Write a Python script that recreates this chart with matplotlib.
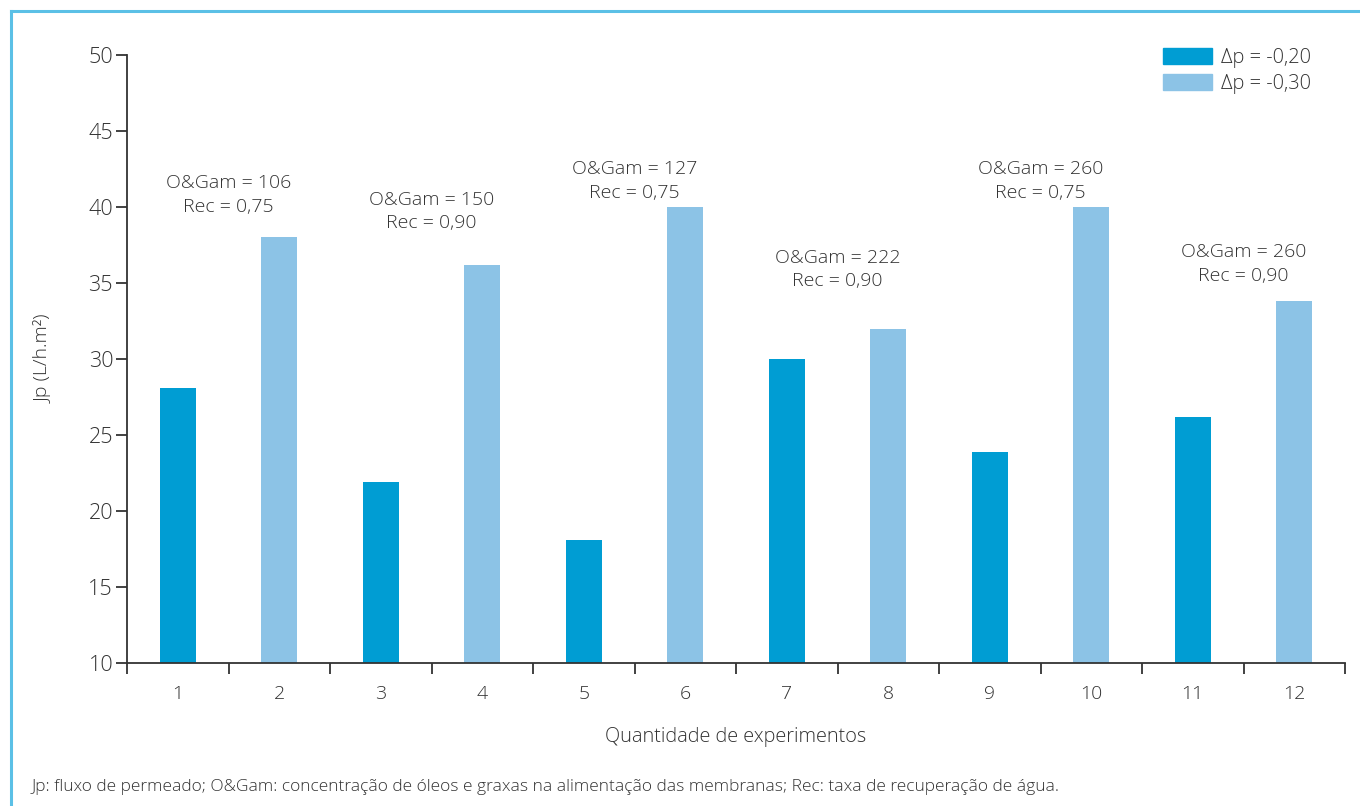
import matplotlib
matplotlib.use('Agg')
import matplotlib.pyplot as plt
from matplotlib.lines import Line2D
from matplotlib.patches import Patch
import numpy as np

plt.rcParams['font.family'] = ['Open Sans', 'DejaVu Sans']

experiments = [str(i) for i in range(1, 13)]
jp_values = [28.1, 38.0, 21.9, 36.2, 18.1, 40.0, 30.0, 32.0, 23.9, 40.0, 26.2, 33.8]
series_names = ['Δp = -0,20', 'Δp = -0,30']
og_labels = ['O&Gam = 106\nRec = 0,75', 'O&Gam = 150\nRec = 0,90',
             'O&Gam = 127\nRec = 0,75', 'O&Gam = 222\nRec = 0,90',
             'O&Gam = 260\nRec = 0,75', 'O&Gam = 260\nRec = 0,90']
label_y = [40.8, 39.7, 41.7, 35.9, 41.7, 36.25]

dark = '#009DD3'
light = '#8CC3E6'
txt = '#333333'

fig = plt.figure(figsize=(13.6, 8.06), dpi=100)
ax = fig.add_axes([127 / 1360, 1 - 663 / 806, 1218 / 1360, 608 / 806])

x = np.arange(len(experiments))
colors = [dark if i % 2 == 0 else light for i in range(len(experiments))]
ax.bar(x, jp_values, width=0.355, color=colors, zorder=2)

# annotation for each pair, centered between the two bars
for k, (lab, ly) in enumerate(zip(og_labels, label_y)):
    ax.text(2 * k + 0.5, ly, lab, ha='center', va='center', fontsize=14,
            color=txt, linespacing=1.4, fontweight='light')

ax.set_ylim(10, 50)
ax.set_xlim(-0.5, len(experiments) - 0.5)
ax.set_yticks(range(10, 51, 5))
ax.set_xticks(x)
ax.set_xticklabels(experiments)
ax.set_xticks(np.arange(-0.5, len(experiments)), minor=True)
ax.tick_params(axis='x', which='major', length=0, pad=16, labelsize=14, labelcolor=txt)
ax.tick_params(axis='x', which='minor', length=8, width=1.3, color=txt, direction='out')
ax.tick_params(axis='y', length=8, width=1.3, color=txt, labelsize=15.5, labelcolor=txt, pad=2)
for lbl in ax.get_xticklabels() + ax.get_yticklabels():
    lbl.set_fontweight('light')

for s in ['top', 'right']:
    ax.spines[s].set_visible(False)
for s in ['left', 'bottom']:
    ax.spines[s].set_color(txt)
    ax.spines[s].set_linewidth(1.3)

ax.set_ylabel('Jp (L/h.m²)', fontsize=14, color=txt, labelpad=26, fontweight='light')
ax.set_xlabel('Quantidade de experimentos', fontsize=14.3, color=txt, labelpad=17, fontweight='light')

handles = [Patch(color=dark), Patch(color=light)]
leg = fig.legend(handles, series_names, loc='upper left',
                 bbox_to_anchor=(1163 / 1360, 1 - 48 / 806),
                 frameon=False, fontsize=14.4, handlelength=2.45, handleheight=0.85,
                 handletextpad=0.45, labelspacing=0.3, labelcolor=txt,
                 borderpad=0, borderaxespad=0)
for t in leg.get_texts():
    t.set_fontweight('light')

fig.text(32 / 1360, 1 - 787 / 806,
         'Jp: fluxo de permeado; O&Gam: concentração de óleos e graxas na alimentação das membranas; Rec: taxa de recuperação de água.',
         fontsize=12.5, color=txt, va='center', ha='left', fontweight='light')

# light blue frame (top and left edges)
fig.add_artist(Line2D([11 / 1360, 11 / 1360], [0, 1 - 11 / 806], color='#5BC0E6', lw=2.2))
fig.add_artist(Line2D([11 / 1360, 1], [1 - 11 / 806, 1 - 11 / 806], color='#5BC0E6', lw=2.2))

fig.savefig('out.png', dpi=100)
